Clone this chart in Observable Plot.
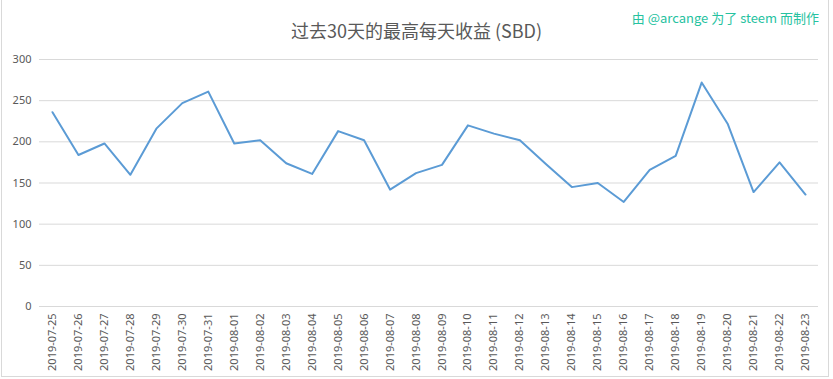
<!DOCTYPE html>
<html>
<head>
<meta charset="utf-8">
<script src="https://cdn.jsdelivr.net/npm/d3@7"></script>
<script src="https://cdn.jsdelivr.net/npm/@observablehq/plot@0.6"></script>
<style>
  html, body { margin: 0; padding: 0; background: #fff; }
  #wrap { position: relative; width: 833px; height: 379px; }
  #frame { position: absolute; left: 1px; top: 0px; width: 828px; height: 377px; border: 1px solid #d9d9d9; border-top: none; box-sizing: border-box; pointer-events: none; }
  #title { position: absolute; left: 0; width: 833px; top: 19px; text-align: center; font-family: "Noto Sans CJK SC", sans-serif; font-size: 18px; color: #595959; line-height: 22px; }
  #credit { position: absolute; right: 14px; top: 9px; font-family: "Noto Sans CJK SC", sans-serif; font-size: 13px; color: #26c2a0; line-height: 17px; }
</style>
</head>
<body>
<div id="wrap">
  <div id="chart"></div>
  <div id="frame"></div>
  <div id="title">过去30天的最高每天收益 (SBD)</div>
  <div id="credit">由 @arcange 为了 steem 而制作</div>
</div>
<script>
const dates = [
  "2019-07-25","2019-07-26","2019-07-27","2019-07-28","2019-07-29","2019-07-30","2019-07-31",
  "2019-08-01","2019-08-02","2019-08-03","2019-08-04","2019-08-05","2019-08-06","2019-08-07",
  "2019-08-08","2019-08-09","2019-08-10","2019-08-11","2019-08-12","2019-08-13","2019-08-14",
  "2019-08-15","2019-08-16","2019-08-17","2019-08-18","2019-08-19","2019-08-20","2019-08-21",
  "2019-08-22","2019-08-23"
];
const values = [
  236, 184, 198, 160, 216, 247, 261,
  198, 202, 174, 161, 213, 202, 142,
  162, 172, 220, 210, 202, 173, 145,
  150, 127, 166, 183, 272, 222, 139,
  175, 136
];
const yTicks = [0, 50, 100, 150, 200, 250, 300];

const data = dates.map((d, i) => ({date: d, value: values[i]}));

const chart = Plot.plot({
  width: 833,
  height: 379,
  marginLeft: 39,
  marginRight: 15,
  marginTop: 59,
  marginBottom: 73,
  style: { fontFamily: "'Noto Sans', sans-serif", fontSize: "11px", color: "#595959", background: "transparent" },
  x: { type: "point", domain: dates, padding: 0.5, round: false, label: null },
  y: { domain: [0, 300], label: null },
  marks: [
    Plot.ruleY(yTicks, { stroke: "#d9d9d9", strokeWidth: 1 }),
    Plot.axisY({ ticks: yTicks, tickSize: 0, tickPadding: 8, label: null, fill: "#595959", fontSize: 11 }),
    Plot.axisX({ tickSize: 0, tickPadding: 7, tickRotate: -90, label: null, fill: "#595959", fontSize: 11 }),
    Plot.lineY(data, { x: "date", y: "value", stroke: "#5b9bd5", strokeWidth: 2, strokeLinejoin: "round" })
  ]
});
document.getElementById("chart").appendChild(chart);
</script>
</body>
</html>
